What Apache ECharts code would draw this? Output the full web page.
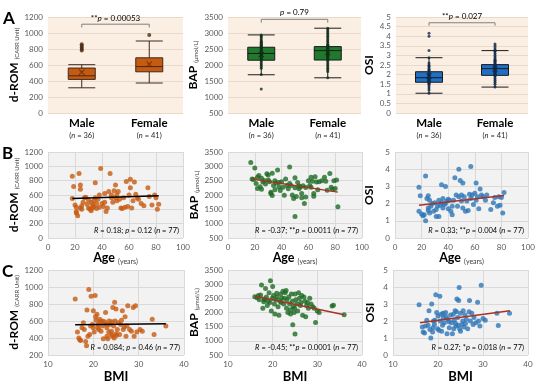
<!DOCTYPE html>
<html><head><meta charset="utf-8">
<script src="https://cdn.jsdelivr.net/npm/echarts@6/dist/echarts.min.js"></script>
<style>html,body{margin:0;padding:0;background:#fff}#c{width:541px;height:389px}</style>
</head><body><div id="c"></div>
<script>
// ---------- DATA ----------
const sexCats = ['Male', 'Female'];
const sexN = [36, 41];

// Row A: box plots [min, Q1, median, Q3, max]
const dromBox = [[315, 420, 465, 562, 604], [375, 515, 580, 690, 900]];
const dromMean = [510, 610];
const dromPtsMale = [780, 800, 820, 840, 860];
const dromPtsFemale = [975];

const bapBox = [[1695, 2150, 2360, 2555, 2940], [1600, 2155, 2450, 2575, 3150]];
const bapMean = [2330, 2390];
const bapPtsMale = [1250,1700,1900,1950,2000,2050,2100,2150,2180,2200,2230,2250,2280,2300,2320,2350,2370,2400,2420,2450,2480,2500,2520,2550,2580,2600,2620,2650,2680,2700,2730,2750,2800,2850,2900,2940];
const bapPtsFemale = [1600,1800,1850,1900,1950,2000,2050,2100,2150,2180,2200,2250,2280,2300,2350,2380,2400,2420,2450,2480,2500,2520,2540,2560,2580,2600,2620,2650,2700,2750,2800,2850,2900,2950,3000,3050,3100,3150,2470,2330,2260];

const osiBox = [[1.03, 1.6, 1.84, 2.15, 2.88], [1.35, 1.96, 2.31, 2.52, 3.25]];
const osiMean = [1.93, 2.28];
const osiPtsMale = [1.03,1.2,1.3,1.4,1.5,1.55,1.6,1.62,1.65,1.7,1.72,1.75,1.78,1.8,1.84,1.86,1.9,1.93,1.96,2.0,2.03,2.05,2.1,2.15,2.2,2.25,2.3,2.4,2.45,2.5,2.6,2.88,3.25,4.0,4.15,1.68];
const osiPtsFemale = [1.35,1.5,1.6,1.7,1.8,1.9,1.96,2.0,2.05,2.1,2.15,2.2,2.25,2.28,2.3,2.31,2.35,2.4,2.45,2.5,2.52,2.55,2.6,2.7,2.8,2.9,3.0,3.1,3.2,3.25,3.3,3.4,3.5,3.6,2.42,2.38,2.22,2.12,1.98,2.65,2.75];

// bracket levels [foot, top] and p-value texts
const bracketLevels = [[1070, 1110], [3322, 3428], [4.55, 4.70]];
const bracketTexts = [['**', 'p', ' = 0.00053'], ['', 'p', ' = 0.79'], ['**', 'p', ' = 0.027']];

// Row B: age vs marker
const ageDrom = [[18,860],[18,550],[19,720],[20,460],[21,370],[21,350],[21,430],[22,310],[23,900],[24,740],[24,680],[24,420],[25,400],[25,450],[26,500],[27,560],[28,570],[29,470],[30,420],[30,530],[31,400],[32,380],[32,500],[33,420],[33,460],[34,440],[34,520],[35,560],[35,770],[36,410],[36,480],[37,540],[38,430],[38,600],[39,970],[40,480],[41,440],[42,620],[42,500],[43,370],[44,420],[45,650],[46,900],[47,560],[47,600],[48,500],[49,660],[50,740],[50,560],[51,520],[51,600],[52,650],[53,540],[54,420],[55,410],[56,560],[57,430],[58,790],[59,440],[60,600],[61,820],[61,700],[62,420],[63,520],[64,780],[65,610],[66,560],[67,540],[69,480],[71,450],[74,700],[75,580],[77,460],[79,600],[80,560],[81,400],[82,470]];
const ageBap = [[17,3130],[18,2560],[19,2540],[20,2940],[21,2400],[22,2620],[22,2230],[23,2680],[24,2290],[25,2580],[25,2200],[26,2450],[27,2510],[28,2380],[29,2740],[30,2700],[30,2520],[31,2460],[32,2100],[32,2050],[33,1980],[33,2760],[34,2330],[35,2180],[35,2500],[36,2420],[37,2870],[38,2440],[38,2280],[39,2160],[40,2460],[41,2270],[42,1990],[43,2560],[44,2330],[45,2220],[46,2980],[46,2400],[47,2330],[48,2000],[49,1880],[50,2600],[50,2250],[50,1250],[51,1950],[52,2440],[53,2220],[53,2310],[54,2280],[55,2050],[55,1900],[56,2320],[57,1700],[58,2260],[58,1930],[60,2500],[61,2330],[62,2620],[62,2270],[63,2480],[64,2050],[64,1960],[65,2640],[66,2450],[67,2180],[68,2460],[70,2500],[72,2620],[73,2480],[74,2170],[76,2750],[77,2270],[78,2200],[79,2500],[80,2230],[81,2520],[82,1590]];
const ageOsi = [[18,2.95],[18,1.55],[19,2.45],[20,1.4],[21,1.3],[22,1.35],[23,3.6],[23,1.0],[24,2.3],[25,2.45],[25,1.75],[25,1.6],[26,1.45],[26,2.2],[27,1.85],[28,2.0],[29,1.55],[30,2.05],[31,1.25],[31,1.65],[32,1.85],[33,1.25],[33,2.2],[34,1.9],[35,3.1],[35,2.05],[36,1.75],[36,2.3],[37,1.95],[38,3.0],[38,2.0],[39,2.15],[40,1.7],[40,2.25],[41,2.2],[42,1.55],[43,1.85],[43,1.35],[44,2.2],[45,3.5],[46,2.5],[47,1.85],[48,4.0],[48,2.4],[49,3.35],[50,2.15],[50,2.5],[51,1.75],[51,3.2],[52,2.4],[53,1.55],[54,2.15],[55,1.6],[56,2.55],[57,4.15],[57,2.3],[58,2.5],[59,1.95],[60,2.6],[61,3.2],[61,2.2],[62,2.4],[63,1.7],[64,2.85],[65,2.5],[66,2.4],[68,2.2],[69,2.5],[72,1.65],[74,2.05],[75,2.35],[77,1.85],[78,2.4],[79,1.9],[80,2.35],[81,1.45],[82,2.65]];

// Row C: BMI vs marker
const bmiDrom = [[16,860],[16.5,470],[16.8,400],[17,380],[17.2,370],[17.5,520],[17.8,580],[18,500],[18.3,360],[18.5,310],[18.6,730],[18.8,420],[19,970],[19.2,440],[19.4,540],[19.5,890],[19.8,560],[20,720],[20,520],[20.2,470],[20.4,900],[20.5,650],[20.6,610],[20.8,680],[21,560],[21,520],[21.2,500],[21.4,620],[21.7,480],[22,600],[22,540],[22.2,390],[22.5,590],[22.7,700],[23,520],[23,420],[23.2,390],[23.5,600],[23.7,560],[24,480],[24,440],[24.2,420],[24.3,760],[24.5,540],[24.6,400],[24.7,820],[24.8,600],[25,740],[25,450],[25.1,430],[25.3,500],[25.5,580],[25.8,440],[26,560],[26.2,610],[26.4,720],[26.6,500],[27,650],[27.2,420],[27.4,540],[27.6,780],[28,500],[28.4,480],[28.8,760],[29,420],[29.3,780],[29.6,470],[30.3,500],[30.8,480],[33,620],[33.4,440],[36,540],[21.5,590],[22.9,560],[23.4,470],[26.8,530],[24.1,590]];
const bmiBap = [[16,2560],[16.5,2520],[16.8,2600],[17,2450],[17.3,2620],[17.5,2970],[17.8,2150],[18,2380],[18.2,2450],[18.4,2850],[18.6,2550],[18.8,2250],[19,2400],[19.2,2700],[19.5,3120],[19.7,2050],[19.9,2500],[20,2920],[20.2,2600],[20.4,2300],[20.5,1950],[20.7,2450],[21,2550],[21.2,2200],[21.4,1900],[21.6,2400],[21.8,2650],[22,2500],[22.3,2750],[22.5,2300],[22.8,2700],[23,2780],[23.2,2450],[23.4,2000],[23.6,2550],[23.8,2300],[24,2100],[24,1950],[24.2,2650],[24.4,2400],[24.5,1570],[24.6,2200],[24.8,2000],[25,2650],[25,1240],[25.2,2450],[25.4,2300],[25.6,2050],[25.8,2700],[26,2500],[26.2,2250],[26.5,2600],[26.7,1900],[27,2550],[27.2,2400],[27.4,1850],[27.6,2250],[27.8,2350],[28,2150],[28.3,2500],[28.6,2300],[29,2200],[29.3,2150],[29.6,1650],[30,2050],[30.4,2000],[33.3,2230],[33.6,2260],[36,1920],[21.9,2350],[23.1,2150],[26.3,2350],[22.6,2500],[19.4,2350],[24.9,2150],[20.9,2680],[18.1,2480]];
const bmiOsi = [[15.8,2.95],[16.5,1.65],[16.7,1.35],[17,1.3],[17.2,1.7],[17.5,2.05],[17.8,1.75],[18,2.6],[18.2,1.5],[18.4,1.0],[18.6,3.0],[18.8,1.35],[19,2.0],[19.2,1.8],[19.5,3.55],[19.7,2.5],[19.9,1.55],[20,2.3],[20.2,1.45],[20.4,3.45],[20.5,2.0],[20.7,2.4],[21,1.75],[21.2,2.2],[21.4,1.9],[21.7,2.5],[22,1.25],[22.2,2.1],[22.5,1.6],[22.8,2.35],[23,1.9],[23.2,1.25],[23.4,2.4],[23.6,2.05],[23.8,2.6],[24,1.7],[24.2,3.3],[24.4,2.2],[24.5,1.75],[24.6,3.2],[24.7,3.97],[24.8,1.55],[25,2.45],[25,1.4],[25.3,1.8],[25.5,2.0],[25.8,1.65],[26,2.35],[26.3,2.1],[26.6,1.55],[27,3.2],[27.2,2.0],[27.5,2.45],[27.8,1.8],[28,2.2],[28.4,1.9],[28.8,3.1],[29,2.0],[29.3,1.7],[29.6,4.1],[30,2.15],[30.5,2.05],[33.1,2.46],[33.4,1.73],[35.9,2.46],[21.1,2.45],[22.4,1.95],[23.5,1.55],[20.8,1.4],[26.9,2.55],[24.1,2.55],[19.3,2.05],[18.9,1.6],[25.6,2.6],[21.8,2.25],[23.9,1.85],[26.1,1.85]];

// regression line endpoints
const trendAgeDrom = [[18, 550], [82, 590]];
const trendAgeBap = [[18, 2560], [82, 2100]];
const trendAgeOsi = [[18, 1.9], [82, 2.47]];
const trendBmiDrom = [[16, 555], [36, 568]];
const trendBmiBap = [[16, 2580], [36, 1920]];
const trendBmiOsi = [[16, 1.9], [36, 2.6]];

const statTexts = [
  ['R', ' = 0.18; ', 'p', ' = 0.12 (', 'n', ' = 77)'],
  ['R', ' = -0.37; **', 'p', ' = 0.0011 (', 'n', ' = 77)'],
  ['R', ' = 0.33; **', 'p', ' = 0.004 (', 'n', ' = 77)'],
  ['R', ' = 0.084; ', 'p', ' = 0.46 (', 'n', ' = 77)'],
  ['R', ' = -0.45; **', 'p', ' = 0.0001 (', 'n', ' = 77)'],
  ['R', ' = 0.27; *', 'p', ' = 0.018 (', 'n', ' = 77)']
];

// ---------- STYLE / LAYOUT ----------
const FONT = 'Lato';
const BEIGE = '#FBEFE4', BEIGE_LINE = '#E9D9CA';
const GRAY = '#F2F2F2', GRAY_LINE = '#D9D9D9';
const LBL = '#595959';
const ORANGE = '#C55A11', GREEN = '#1E6B24', BLUE = '#2E75B6', RED = '#A93226';

const G = [
  [48, 17, 135, 96], [228, 17, 133, 96], [396, 17, 132, 96],
  [48, 152, 135, 86], [228, 152, 134, 86], [395, 152, 133, 86],
  [48, 270, 136, 85], [228, 270, 134, 85], [393, 270, 135, 85]
];
const yRanges = [[0,1200,200],[500,3500,500],[0,5,0.5],[0,1200,200],[500,3500,500],[0,5,1],[200,1200,200],[500,3500,500],[0,5,1]];
const yNames = [['d-ROM','(CARR Unit)'],['BAP','(μmol/L)'],['OSI','']];
const yGaps = [25,29,21,25,27,20,25,27,17];

const richName = {
  a: {fontFamily: FONT, fontSize: 12, fontWeight: 'bold', color: '#000'},
  b: {fontFamily: FONT, fontSize: 6, color: '#404040', verticalAlign: 'bottom'}
};
const plainNum = v => String(v);

const grids = [], xAxes = [], yAxes = [], series = [];
G.forEach((g, i) => {
  const row = Math.floor(i / 3), col = i % 3;
  grids.push({left: g[0], top: g[1], width: g[2], height: g[3], show: true,
    backgroundColor: row === 0 ? BEIGE : GRAY, borderWidth: 0});
  const r = yRanges[i];
  const yn = yNames[col];
  yAxes.push({type: 'value', gridIndex: i, min: r[0], max: r[1], interval: r[2],
    axisLine: {show: false}, axisTick: {show: false},
    splitLine: {lineStyle: {color: row === 0 ? BEIGE_LINE : GRAY_LINE, width: 1}},
    axisLabel: {fontFamily: FONT, fontSize: 8, color: LBL, margin: 5, formatter: plainNum},
    name: yn[1] ? `{a|${yn[0]}} {b|${yn[1]}}` : `{a|${yn[0]}}`,
    nameLocation: 'middle', nameRotate: 90, nameGap: yGaps[i],
    nameTextStyle: {rich: richName}});
  if (row === 0) {
    xAxes.push({type: 'category', gridIndex: i, data: sexCats,
      axisLine: {show: false}, axisTick: {show: false}, splitLine: {show: false},
      axisLabel: {interval: 0, margin: 4,
        formatter: (v, idx) => `{a|${v}}\n{b|(}{i|n}{b| = ${sexN[idx]})}`,
        rich: {
          a: {fontFamily: FONT, fontSize: 11.5, fontWeight: 'bold', color: '#000', lineHeight: 13},
          b: {fontFamily: FONT, fontSize: 7.5, color: '#262626', lineHeight: 11},
          i: {fontFamily: FONT, fontSize: 7.5, fontStyle: 'italic', color: '#262626', lineHeight: 11}
        }}});
  } else {
    const isAge = row === 1;
    xAxes.push({type: 'value', gridIndex: i,
      min: isAge ? 0 : 10, max: isAge ? 100 : 40, interval: isAge ? 20 : 10,
      axisLine: {show: false}, axisTick: {show: false},
      splitLine: {lineStyle: {color: GRAY_LINE, width: 1}},
      axisLabel: {fontFamily: FONT, fontSize: 8, color: LBL, margin: 5, formatter: plainNum},
      name: isAge ? '{a|Age} {b|(years)}' : '{a|BMI}',
      nameLocation: 'middle', nameGap: isAge ? 13 : 15,
      nameTextStyle: {rich: {
        a: {fontFamily: FONT, fontSize: isAge ? 12.5 : 13, fontWeight: 'bold', color: '#000'},
        b: {fontFamily: FONT, fontSize: 7, color: '#404040', verticalAlign: 'bottom'}}}});
  }
});

const X_PATH = 'path://M1,0 L5,4 L9,0 L10,1 L6,5 L10,9 L9,10 L5,6 L1,10 L0,9 L4,5 L0,1 Z';

function boxSet(i, box, mean, ptsM, ptsF, fill, border, ptColor, meanColor, ptSize) {
  series.push({type: 'boxplot', xAxisIndex: i, yAxisIndex: i, data: box,
    boxWidth: [27, 27], itemStyle: {color: fill, borderColor: border, borderWidth: 1}, z: 2});
  const pts = ptsM.map(v => ['Male', v]).concat(ptsF.map(v => ['Female', v]));
  series.push({type: 'scatter', xAxisIndex: i, yAxisIndex: i, data: pts,
    symbolSize: ptSize, itemStyle: {color: ptColor}, z: 3});
  series.push({type: 'scatter', xAxisIndex: i, yAxisIndex: i,
    data: mean.map((v, k) => [sexCats[k], v]), symbol: X_PATH, symbolSize: 6,
    itemStyle: {color: meanColor}, z: 4});
  const b = bracketLevels[i];
  series.push({type: 'line', xAxisIndex: i, yAxisIndex: i, symbol: 'none',
    data: [['Male', b[0]], ['Male', b[1]], ['Female', b[1]], ['Female', b[0]]],
    lineStyle: {color: '#7F7F7F', width: 1}, z: 5, clip: false});
}
boxSet(0, dromBox, dromMean, dromPtsMale, dromPtsFemale, ORANGE, '#3F2A1E', '#4A2A14', '#5A1E05', 4);
boxSet(1, bapBox, bapMean, bapPtsMale, bapPtsFemale, '#1F7A2E', '#1A1A1A', '#12301A', '#0E2A0E', 3);
boxSet(2, osiBox, osiMean, osiPtsMale, osiPtsFemale, '#1F6FC3', '#1A1A1A', '#102A48', '#0E2A4A', 3);

const scatterSets = [
  [3, ageDrom, trendAgeDrom, ORANGE, '#000'],
  [4, ageBap, trendAgeBap, GREEN, RED],
  [5, ageOsi, trendAgeOsi, BLUE, RED],
  [6, bmiDrom, trendBmiDrom, ORANGE, '#000'],
  [7, bmiBap, trendBmiBap, GREEN, RED],
  [8, bmiOsi, trendBmiOsi, BLUE, RED]
];
scatterSets.forEach(s => {
  series.push({type: 'scatter', xAxisIndex: s[0], yAxisIndex: s[0], data: s[1],
    symbolSize: 5, itemStyle: {color: s[3]}, z: 2});
  series.push({type: 'line', xAxisIndex: s[0], yAxisIndex: s[0], data: s[2], symbol: 'none',
    lineStyle: {color: s[4], width: 1.5}, z: 3});
});

const chart = echarts.init(document.getElementById('c'), null, {renderer: 'canvas'});
chart.setOption({animation: false, textStyle: {fontFamily: FONT},
  grid: grids, xAxis: xAxes, yAxis: yAxes, series: series});

// ---------- ANNOTATIONS ----------
const graphics = [];
[['A', 3, 10], ['B', 2, 145], ['C', 2, 263]].forEach(p => {
  graphics.push({type: 'text', x: p[1], y: p[2],
    style: {text: p[0], font: 'bold 17px Lato', fill: '#000'}});
});
const textRich = {
  t: {fontFamily: FONT, fontSize: 8, color: '#262626'},
  i: {fontFamily: FONT, fontSize: 8, fontStyle: 'italic', color: '#262626'}
};
const bracketTextGap = [6, 7, 6];
[0, 1, 2].forEach(i => {
  const top = bracketLevels[i][1];
  const p1 = chart.convertToPixel({gridIndex: i}, [0, top]);
  const p2 = chart.convertToPixel({gridIndex: i}, [1, top]);
  const bt = bracketTexts[i];
  graphics.push({type: 'text', x: (p1[0] + p2[0]) / 2, y: p1[1] - bracketTextGap[i], z: 10,
    style: {text: (bt[0] ? `{t|${bt[0]}}` : '') + `{i|${bt[1]}}{t|${bt[2]}}`,
      rich: textRich, align: 'center', verticalAlign: 'middle'}});
});
statTexts.forEach((st, k) => {
  const g = G[k + 3];
  const txt = st.map((s, j) => (j % 2 === 0 ? `{i|${s}}` : `{t|${s}}`)).join('');
  graphics.push({type: 'text', x: g[0] + g[2] - 4, y: g[1] + g[3] - 3, z: 10,
    style: {text: txt, rich: {
      t: {fontFamily: FONT, fontSize: 7.5, color: '#262626'},
      i: {fontFamily: FONT, fontSize: 7.5, fontStyle: 'italic', color: '#262626'}},
      align: 'right', verticalAlign: 'bottom'}});
});
chart.setOption({graphic: graphics});
</script>
</body></html>
